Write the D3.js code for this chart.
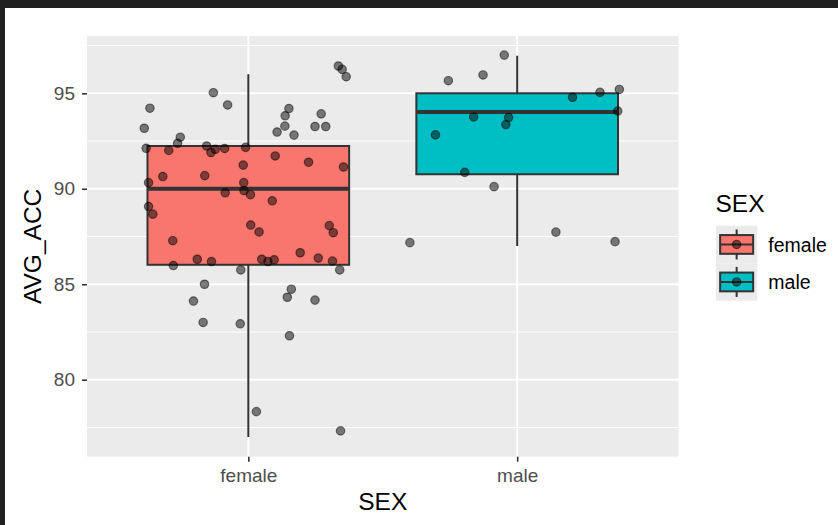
<!DOCTYPE html>
<html>
<head>
<meta charset="utf-8">
<script src="https://cdn.jsdelivr.net/npm/d3@7"></script>
<style>
  html, body { margin: 0; padding: 0; background: #ffffff; }
  svg { display: block; font-family: "Liberation Sans", Arial, Helvetica, sans-serif; }
</style>
</head>
<body>
<svg id="chart" width="838" height="525"></svg>
<script>
// ---- data ----
const categories = ["female", "male"];
const fillColors = ["#F8766D", "#00BFC4"];

// box summaries per category: lower whisker, Q1, median, Q3, upper whisker
const whiskerLow  = [77.0, 87.0];
const q1          = [86.02, 90.76];
const medians     = [90.0, 94.02];
const q3          = [92.24, 95.0];
const whiskerHigh = [96.0, 96.97];

// jittered observations: AVG_ACC value and horizontal jitter offset (category units)
const femaleValues = [
  96.43, 96.25, 95.87, 95.03, 94.39, 94.22, 93.17, 92.70, 92.38, 92.12,
  92.01, 92.24, 91.90, 92.07, 92.11, 92.17, 94.20, 93.82, 93.28, 92.97,
  92.81, 93.92, 93.26, 93.26, 91.72, 91.39, 91.14, 91.24, 90.64, 90.69,
  90.32, 90.32, 89.79, 89.91, 89.69, 89.37, 89.07, 88.67, 88.10, 87.74,
  88.07, 87.70, 87.28, 86.31, 86.19, 86.31, 86.19, 86.28, 86.65, 86.37,
  86.21, 85.98, 85.75, 85.75, 85.00, 84.74, 84.32, 84.12, 84.17, 83.00,
  82.93, 82.30, 78.33, 77.32
];
const femaleJitter = [
  0.335, 0.349, 0.364, -0.130, -0.077, -0.366, -0.387, -0.253, -0.263, -0.380,
  -0.296, -0.155, -0.139, -0.123, -0.088, -0.010, 0.151, 0.137, 0.136, 0.107,
  0.170, 0.271, 0.248, 0.288, 0.100, 0.224, 0.354, -0.019, -0.318, -0.162,
  -0.371, -0.017, -0.086, -0.016, 0.008, 0.089, -0.371, -0.355, 0.009, 0.040,
  0.301, 0.316, -0.281, -0.190, -0.137, 0.050, 0.073, 0.096, 0.193, 0.260,
  0.313, -0.279, -0.028, 0.340, -0.163, 0.160, 0.145, -0.204, 0.248, -0.168,
  -0.030, 0.153, 0.030, 0.343
];
const maleValues = [
  97.00, 95.66, 95.96, 94.79, 95.05, 95.20, 94.07, 93.76, 93.73, 93.36,
  92.82, 90.86, 90.11, 87.73, 87.18, 87.23
];
const maleJitter = [
  -0.048, -0.256, -0.127, 0.206, 0.308, 0.380, 0.374, -0.162, -0.032, -0.042,
  -0.304, -0.195, -0.086, 0.144, -0.399, 0.364
];

const yTicks = [80, 85, 90, 95];
const yMinorTicks = [77.5, 82.5, 87.5, 92.5, 97.5];
const yDomain = [75.97, 98.0];

// ---- layout ----
const svg = d3.select("#chart");
const W = 838, H = 525;
const panel = { left: 87, right: 678.5, top: 36, bottom: 456.7 };

// window frame
svg.append("rect").attr("x", 0).attr("y", 0).attr("width", W).attr("height", 8).attr("fill", "#202020");
svg.append("rect").attr("x", 0).attr("y", 0).attr("width", 5).attr("height", H).attr("fill", "#202020");

const x = d3.scaleLinear().domain([0.4, categories.length + 0.6]).range([panel.left, panel.right]);
const y = d3.scaleLinear().domain(yDomain).range([panel.bottom, panel.top]);
const catPos = i => i + 1;
const boxHalf = 0.375;

// panel background
svg.append("rect")
  .attr("x", panel.left).attr("y", panel.top)
  .attr("width", panel.right - panel.left).attr("height", panel.bottom - panel.top)
  .attr("fill", "#EBEBEB");

const grid = svg.append("g");
grid.selectAll("line.minor").data(yMinorTicks).join("line")
  .attr("x1", panel.left).attr("x2", panel.right)
  .attr("y1", d => y(d)).attr("y2", d => y(d))
  .attr("stroke", "#ffffff").attr("stroke-width", 1);
grid.selectAll("line.majorY").data(yTicks).join("line")
  .attr("x1", panel.left).attr("x2", panel.right)
  .attr("y1", d => y(d)).attr("y2", d => y(d))
  .attr("stroke", "#ffffff").attr("stroke-width", 2);
grid.selectAll("line.majorX").data(categories).join("line")
  .attr("x1", (d, i) => x(catPos(i))).attr("x2", (d, i) => x(catPos(i)))
  .attr("y1", panel.top).attr("y2", panel.bottom)
  .attr("stroke", "#ffffff").attr("stroke-width", 2);

// boxplots
const boxes = svg.append("g");
categories.forEach((c, i) => {
  const cx = x(catPos(i));
  const g = boxes.append("g");
  g.append("line").attr("x1", cx).attr("x2", cx)
    .attr("y1", y(q3[i])).attr("y2", y(whiskerHigh[i]))
    .attr("stroke", "#333333").attr("stroke-width", 2);
  g.append("line").attr("x1", cx).attr("x2", cx)
    .attr("y1", y(q1[i])).attr("y2", y(whiskerLow[i]))
    .attr("stroke", "#333333").attr("stroke-width", 2);
  g.append("rect")
    .attr("x", x(catPos(i) - boxHalf)).attr("y", y(q3[i]))
    .attr("width", x(catPos(i) + boxHalf) - x(catPos(i) - boxHalf))
    .attr("height", y(q1[i]) - y(q3[i]))
    .attr("fill", fillColors[i]).attr("stroke", "#333333").attr("stroke-width", 2);
  g.append("line")
    .attr("x1", x(catPos(i) - boxHalf)).attr("x2", x(catPos(i) + boxHalf))
    .attr("y1", y(medians[i])).attr("y2", y(medians[i]))
    .attr("stroke", "#333333").attr("stroke-width", 4);
});

// jittered points
const pts = [];
femaleValues.forEach((v, k) => pts.push({ c: 0, v, j: femaleJitter[k] }));
maleValues.forEach((v, k) => pts.push({ c: 1, v, j: maleJitter[k] }));
svg.append("g").selectAll("circle").data(pts).join("circle")
  .attr("cx", d => x(catPos(d.c) + d.j))
  .attr("cy", d => y(d.v))
  .attr("r", 4.2)
  .attr("fill", "#000").attr("fill-opacity", 0.5)
  .attr("stroke", "#000").attr("stroke-opacity", 0.5).attr("stroke-width", 1.2);

// axes
const tickFont = "19px";
const yAxis = svg.append("g").attr("transform", `translate(${panel.left},0)`)
  .call(d3.axisLeft(y).tickValues(yTicks).tickSize(5).tickPadding(7).tickFormat(d3.format("d")));
const xAxis = svg.append("g").attr("transform", `translate(0,${panel.bottom})`)
  .call(d3.axisBottom(x).tickValues(categories.map((c, i) => catPos(i))).tickSize(5).tickPadding(6.4)
    .tickFormat((d, i) => categories[i]));
[yAxis, xAxis].forEach(a => {
  a.select(".domain").remove();
  a.selectAll(".tick line").attr("stroke", "#333333").attr("stroke-width", 1.6);
  a.selectAll(".tick text").attr("fill", "#4D4D4D").style("font-size", tickFont)
    .style("font-family", "'Liberation Sans', Arial, sans-serif");
});

// axis titles
svg.append("text")
  .attr("x", (panel.left + panel.right) / 2).attr("y", 510)
  .attr("text-anchor", "middle").attr("fill", "#000").style("font-size", "24.5px")
  .text("SEX");
svg.append("text")
  .attr("transform", `translate(40.5,${(panel.top + panel.bottom) / 2}) rotate(-90)`)
  .attr("text-anchor", "middle").attr("fill", "#000").style("font-size", "24.5px")
  .text("AVG_ACC");

// legend
const leg = svg.append("g").attr("transform", "translate(716,225.7)");
leg.append("text").attr("x", -0.5).attr("y", -14).attr("fill", "#000")
  .style("font-size", "24.5px").text("SEX");
const keyW = 41.3, keyH = 37.5;
categories.forEach((c, i) => {
  const g = leg.append("g").attr("transform", `translate(0,${i * keyH})`);
  g.append("rect").attr("width", keyW).attr("height", keyH).attr("fill", "#EBEBEB");
  g.append("line").attr("x1", keyW / 2).attr("x2", keyW / 2)
    .attr("y1", keyH * 0.1).attr("y2", keyH * 0.9)
    .attr("stroke", "#333333").attr("stroke-width", 2);
  g.append("rect").attr("x", keyW * 0.1).attr("y", keyH * 0.25)
    .attr("width", keyW * 0.8).attr("height", keyH * 0.5)
    .attr("fill", fillColors[i]).attr("stroke", "#333333").attr("stroke-width", 2);
  g.append("line").attr("x1", keyW * 0.1).attr("x2", keyW * 0.9)
    .attr("y1", keyH / 2).attr("y2", keyH / 2)
    .attr("stroke", "#333333").attr("stroke-width", 2);
  g.append("circle").attr("cx", keyW / 2).attr("cy", keyH / 2).attr("r", 4.2)
    .attr("fill", "#000").attr("fill-opacity", 0.5)
    .attr("stroke", "#000").attr("stroke-opacity", 0.5).attr("stroke-width", 1.2);
  g.append("text").attr("x", 52.3).attr("y", keyH / 2 + 7.5)
    .attr("fill", "#000").style("font-size", "19.5px").text(c);
});
</script>
</body>
</html>
